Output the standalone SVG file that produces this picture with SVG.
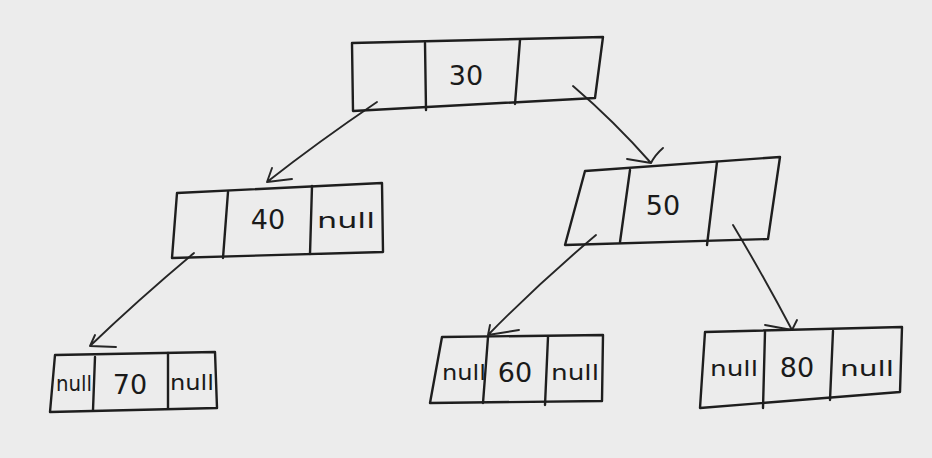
<svg xmlns="http://www.w3.org/2000/svg" width="932" height="458" viewBox="0 0 932 458">
<style>
.box{fill:none;stroke:#1e1e1e;stroke-width:2.4;stroke-linejoin:round;stroke-linecap:round}
.ln{fill:none;stroke:#262626;stroke-width:1.9;stroke-linecap:round;stroke-linejoin:round}
.t{font-family:"DejaVu Sans","Liberation Sans",sans-serif;fill:#1a1a1a;text-anchor:middle}
.num{font-size:27px}
.nl{font-size:21px}
</style>
<rect width="932" height="458" fill="#ececec"/>
<g id="connectors">
<path class="ln" d="M377,102 Q318,142 267,182 M272,168 L267,182 L292,179"/>
<path class="ln" d="M573,86 Q614,121 651,163 M663,148 Q655,155 651,163 L627,159"/>
<path class="ln" d="M194,253 Q138,300 90,346 M95,335 L90,346 L116,347"/>
<path class="ln" d="M596,235 Q538,284 488,335 M490,325 L488,335 L519,330"/>
<path class="ln" d="M733,225 Q764,277 792,330 M797,320 L792,330 L765,325"/>
</g>
<g id="node30">
<polygon class="box" points="352,43 603,37 595,98 353,111"/>
<path class="box" d="M425,43 L426,110 M520,40 L515,104"/>
<text class="t num" x="466" y="85">30</text>
</g>
<g id="node40">
<polygon class="box" points="177,193 382,183 383,252 172,258"/>
<path class="box" d="M228,192 L223,258 M312,186 L310,254"/>
<text class="t num" x="268" y="229">40</text>
<text class="t nl" x="346" y="228" textLength="58" lengthAdjust="spacingAndGlyphs">null</text>
</g>
<g id="node50">
<polygon class="box" points="585,171 780,157 768,239 565,245"/>
<path class="box" d="M630,170 L620,242 M717,162 L707,245"/>
<text class="t num" x="663" y="215">50</text>
</g>
<g id="node70">
<polygon class="box" points="55,355 215,352 217,408 50,412"/>
<path class="box" d="M95,357 L93,410 M168,353 L168,408"/>
<text class="t nl" x="74" y="391" font-size="17" textLength="36" lengthAdjust="spacingAndGlyphs">null</text>
<text class="t num" x="130" y="394">70</text>
<text class="t nl" x="192" y="390" textLength="44" lengthAdjust="spacingAndGlyphs">null</text>
</g>
<g id="node60">
<polygon class="box" points="442,337 603,335 602,401 430,403"/>
<path class="box" d="M488,337 L483,403 M548,337 L545,405"/>
<text class="t nl" x="464" y="380" textLength="44" lengthAdjust="spacingAndGlyphs">null</text>
<text class="t num" x="515" y="382">60</text>
<text class="t nl" x="575" y="380" textLength="48" lengthAdjust="spacingAndGlyphs">null</text>
</g>
<g id="node80">
<polygon class="box" points="705,332 902,327 900,392 700,408"/>
<path class="box" d="M765,332 L763,408 M833,331 L830,400"/>
<text class="t nl" x="734" y="376" textLength="48" lengthAdjust="spacingAndGlyphs">null</text>
<text class="t num" x="797" y="377">80</text>
<text class="t nl" x="867" y="376" textLength="54" lengthAdjust="spacingAndGlyphs">null</text>
</g>
</svg>
